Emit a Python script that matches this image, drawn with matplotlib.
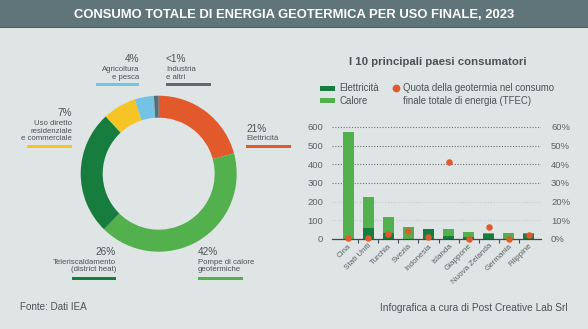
import matplotlib
matplotlib.use("Agg")
import matplotlib.pyplot as plt
from matplotlib.patches import Rectangle
from matplotlib.ticker import FixedLocator, FuncFormatter
import numpy as np

plt.rcParams["font.family"] = ["Liberation Sans", "DejaVu Sans"]

# ---------------------------------------------------
# Data
# ---------------------------------------------------

uses = ["Elettricità", "Pompe di calore geotermiche", "Teleriscaldamento",
        "Uso diretto residenziale e commerciale", "Agricoltura e pesca",
        "Industria e altri"]
use_share = [21, 42, 26, 7, 4, 1]

countries = ["Cina", "Stati Uniti", "Turchia", "Svezia", "Indonesia",
             "Islanda", "Giappone", "Nuova Zelanda", "Germania", "Filippine"]
electricity = [0, 60, 34, 0, 53, 18, 12, 28, 0, 27]
heat = [575, 163, 82, 63, 2, 37, 27, 6, 34, 3]
tfec_share = [0.7, 0.4, 2.5, 4.5, 0.9, 41, 0.1, 6.3, 0.2, 2.1]

left_ticks = [0, 100, 200, 300, 400, 500, 600]
right_ticks = [0, 10, 20, 30, 40, 50, 60]

# ---------------------------------------------------
# Colours
# ---------------------------------------------------

BG = "#dfe4e5"
HEADER = "#5f757a"
ORANGE = "#e25a2b"
LGREEN = "#52b04d"
DGREEN = "#177d3e"
YELLOW = "#f6c525"
LBLUE = "#72c3e6"
GREY = "#5b6b70"
TEXT = "#4a5356"
TICK = "#5a6366"

use_colors = [ORANGE, LGREEN, DGREEN, YELLOW, LBLUE, GREY]

W, H = 588, 329
fig = plt.figure(figsize=(W / 100, H / 100), dpi=100, facecolor=BG)


def fx(x):
    return x / W


def fy(y):
    return 1 - y / H


def ftext(x, y, s, **kw):
    kw.setdefault("color", TEXT)
    kw.setdefault("va", "center")
    fig.text(fx(x), fy(y), s, **kw)


def fbar(x0, x1, y, color, h=3):
    fig.add_artist(Rectangle((fx(x0), fy(y + h / 2)), (x1 - x0) / W, h / H,
                             transform=fig.transFigure, color=color, lw=0))


# ---------------------------------------------------
# Header
# ---------------------------------------------------

fig.add_artist(Rectangle((0, fy(28)), 1, 28 / H, transform=fig.transFigure,
                         color=HEADER, lw=0))
fig.add_artist(Rectangle((0, fy(28)), 1, 1.2 / H, transform=fig.transFigure,
                         color="#4b5d61", lw=0))
ftext(294, 14.5, "CONSUMO TOTALE DI ENERGIA GEOTERMICA PER USO FINALE, 2023",
      ha="center", color="white", fontsize=9.4, fontweight="bold")

# ---------------------------------------------------
# Donut
# ---------------------------------------------------

cx, cy, r_px = 158.7, 173.7, 78
half = r_px * 1.025
ax_pie = fig.add_axes([fx(cx - half), fy(cy + half), 2 * half / W, 2 * half / H])
ax_pie.set_facecolor("none")
ax_pie.pie(use_share, colors=use_colors, startangle=90, counterclock=False,
           radius=1, wedgeprops=dict(width=22 / 78, linewidth=0))
ax_pie.set_xlim(-1.025, 1.025)
ax_pie.set_ylim(-1.025, 1.025)
ax_pie.set_aspect("equal")
ax_pie.axis("off")

pct_kw = dict(fontsize=7.2)
lab_kw = dict(fontsize=5.6, linespacing=1.05)

# Agricoltura e pesca
ftext(139, 59.5, "4%", ha="right", **pct_kw)
ftext(139, 73.5, "Agricoltura\ne pesca", ha="right", **lab_kw)
fbar(96, 139, 84.3, LBLUE)
# Industria e altri
ftext(166, 59.5, "<1%", ha="left", **pct_kw)
ftext(166, 73.5, "Industria\ne altri", ha="left", **lab_kw)
fbar(166, 211, 84.3, GREY)
# Uso diretto
ftext(72, 113.3, "7%", ha="right", **pct_kw)
ftext(72, 131, "Uso diretto\nresidenziale\ne commerciale", ha="right", **lab_kw)
fbar(27, 72, 146.3, YELLOW)
# Elettricità
ftext(246, 129, "21%", ha="left", **pct_kw)
ftext(246, 139, "Elettricità", ha="left", **lab_kw)
fbar(246, 291, 146.3, ORANGE)
# Teleriscaldamento
ftext(116, 252.3, "26%", ha="right", **pct_kw)
ftext(116, 266, "Teleriscaldamento\n(district heat)", ha="right", **lab_kw)
fbar(72, 116, 278, DGREEN)
# Pompe di calore
ftext(198, 252.3, "42%", ha="left", **pct_kw)
ftext(198, 266, "Pompe di calore\ngeotermiche", ha="left", **lab_kw)
fbar(198, 243, 278, LGREEN)

ftext(20, 306.7, "Fonte: Dati IEA", ha="left", fontsize=7.1)

# ---------------------------------------------------
# Top 10 countries
# ---------------------------------------------------

ftext(438, 62.3, "I 10 principali paesi consumatori", ha="center",
      fontsize=8.2, fontweight="bold")

leg_fs = 6.9
fbar(320, 335, 88.3, DGREEN, h=5)
fbar(320, 335, 100.7, LGREEN, h=5)
ftext(339, 88.3, "Elettricità", ha="left", fontsize=leg_fs)
ftext(339, 100.7, "Calore", ha="left", fontsize=leg_fs)
fig.add_artist(plt.Line2D([fx(396)], [fy(88.3)], marker="o", markersize=4.6,
                          color=ORANGE, transform=fig.transFigure, lw=0))
ftext(403, 88.3, "Quota della geotermia nel consumo", ha="left", fontsize=leg_fs)
ftext(403, 100.7, "finale totale di energia (TFEC)", ha="left", fontsize=leg_fs)

x_left, x_right, y_top, y_bot = 332, 541, 127, 239
ax = fig.add_axes([fx(x_left), fy(y_bot), (x_right - x_left) / W,
                   (y_bot - y_top) / H])
ax.set_facecolor("none")
x = np.arange(len(countries))
ax.bar(x, electricity, width=0.55, color=DGREEN, zorder=3)
ax.bar(x, heat, width=0.55, bottom=electricity, color=LGREEN, zorder=3)
ax.set_xlim(-0.8, 9.6)
ax.set_ylim(0, 600)

for v in left_ticks[1:]:
    strong = v >= 300
    ax.axhline(v, color="#6b7477" if strong else "#c5cccd", lw=0.8,
               ls=(0, (1, 1.5)), zorder=1)

for s in ["top", "right", "left"]:
    ax.spines[s].set_visible(False)
ax.spines["bottom"].set_color("#3f4a4d")
ax.spines["bottom"].set_linewidth(0.9)
ax.spines["bottom"].set_zorder(4)

ax.set_yticks(left_ticks)
ax.tick_params(axis="y", length=0, pad=6.3, labelsize=6.8, labelcolor=TICK)
ax.set_xticks(x)
ax.set_xticklabels(countries, rotation=45, ha="right", rotation_mode="anchor")
ax.tick_params(axis="x", which="major", length=0, pad=2.5, labelsize=5.8,
               labelcolor=TICK)
ax.xaxis.set_minor_locator(FixedLocator(x[:-1] + 0.5))
ax.tick_params(axis="x", which="minor", length=3, width=0.8, color="#3f4a4d")

ax2 = ax.twinx()
ax2.set_ylim(0, 60)
ax2.scatter(x, tfec_share, s=22, color=ORANGE, zorder=5, clip_on=False,
            linewidths=0)
ax2.set_yticks(right_ticks)
ax2.yaxis.set_major_formatter(FuncFormatter(lambda v, p: f"{v:.0f}%"))
ax2.tick_params(axis="y", length=0, pad=7.2, labelsize=6.8, labelcolor=TICK)
for s in ax2.spines.values():
    s.set_visible(False)

ftext(568, 307.7, "Infografica a cura di Post Creative Lab Srl", ha="right",
      fontsize=7.3)

fig.savefig("out.png", dpi=100, facecolor=BG)
